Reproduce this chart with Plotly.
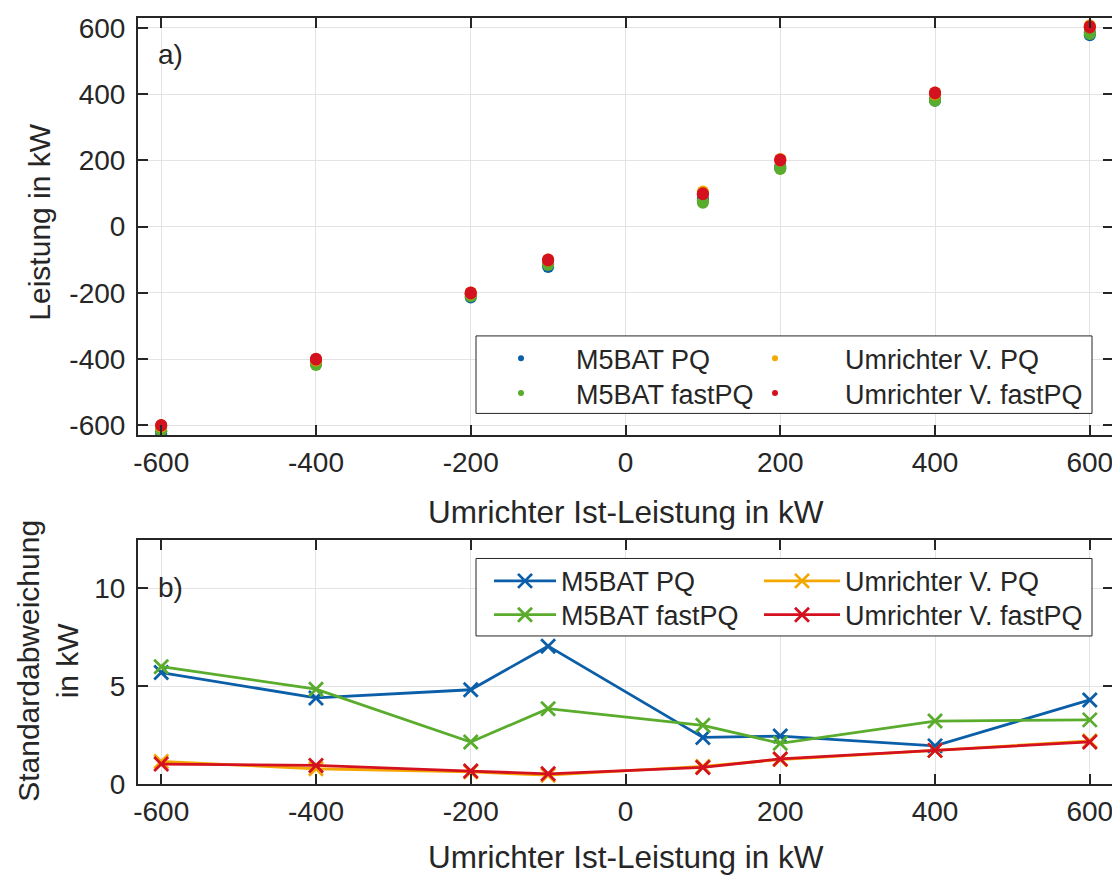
import plotly.graph_objects as go

# ---------------- data ----------------
x_power = [-600, -400, -200, -100, 100, 200, 400, 600]

# a) measured power (two samples per operating point, read from the clusters)
m5bat_pq_lo = [-625, -415, -214, -122, 78, 176, 380, 578]
m5bat_pq_hi = [-618, -408, -206, -114, 86, 182, 386, 586]
m5bat_fastpq_lo = [-616, -418, -210, -116, 72, 174, 380, 582]
m5bat_fastpq_hi = [-610, -412, -204, -110, 78, 180, 384, 588]
umr_pq_lo = [-604, -404, -203, -102, 100, 200, 400, 602]
umr_pq_hi = [-600, -400, -199, -99, 106, 204, 405, 608]
umr_fastpq_lo = [-601, -402, -202, -102, 98, 200, 402, 601]
umr_fastpq_hi = [-599, -399, -199, -99, 101, 203, 405, 605]

# b) standard deviation in kW
std_m5bat_pq = [5.7, 4.4, 4.82, 7.05, 2.38, 2.45, 1.95, 4.3]
std_m5bat_fastpq = [6.0, 4.85, 2.15, 3.85, 3.0, 2.08, 3.22, 3.28]
std_umr_pq = [1.15, 0.78, 0.62, 0.45, 0.9, 1.25, 1.72, 2.2]
std_umr_fastpq = [1.02, 0.95, 0.66, 0.52, 0.85, 1.28, 1.72, 2.15]

series_names = ["M5BAT PQ", "M5BAT fastPQ", "Umrichter V. PQ", "Umrichter V. fastPQ"]
x_ticks = [-600, -400, -200, 0, 200, 400, 600]
x_tick_labels = ["-600", "-400", "-200", "0", "200", "400", "600"]
y_ticks_a = [-600, -400, -200, 0, 200, 400, 600]
y_tick_labels_a = ["-600", "-400", "-200", "0", "200", "400", "600"]
y_ticks_b = [0, 5, 10]
y_tick_labels_b = ["0", "5", "10"]

# ---------------- style ----------------
colors = ["#0b5ea8", "#5aac2c", "#f4a700", "#d4111e"]
FONT = "Liberation Sans, Arial, sans-serif"
TXT = "#262626"
TICK_SIZE = 28
LEG_SIZE = 27
TITLE_SIZE = 30
XTITLE_SIZE = 31.5

# screen-pixel helpers (plot area spans x 138..1113, y 13..784 on screen)
def py(p):
    return (784 - p) / 771.0
def px(p):
    return (p - 138) / 975.0

fig = go.Figure()

top_lo = [m5bat_pq_lo, m5bat_fastpq_lo, umr_pq_lo, umr_fastpq_lo]
top_hi = [m5bat_pq_hi, m5bat_fastpq_hi, umr_pq_hi, umr_fastpq_hi]
for name, lo, hi, c in zip(series_names, top_lo, top_hi, colors):
    fig.add_trace(go.Scatter(x=x_power + x_power, y=lo + hi, mode="markers", name=name,
                             marker=dict(color=c, size=12, line=dict(width=0)),
                             showlegend=False, xaxis="x", yaxis="y"))

# legend slots: (legend id, text-start x, row centre y, itemwidth)
top_slots = [("legend", 578, 356, 100), ("legend3", 578, 391, 100),
             ("legend2", 847, 356, 130), ("legend4", 847, 391, 130)]
bot_slots = [("legend5", 563, 580, 62), ("legend7", 563, 614, 62),
             ("legend6", 847, 580, 76), ("legend8", 847, 614, 76)]

for name, c, slot in zip(series_names, colors, top_slots):
    fig.add_trace(go.Scatter(x=[None], y=[None], mode="markers", name=name,
                             marker=dict(color=c, size=6), legend=slot[0],
                             xaxis="x", yaxis="y"))

bottom = [std_m5bat_pq, std_m5bat_fastpq, std_umr_pq, std_umr_fastpq]
for name, ys, c, slot in zip(series_names, bottom, colors, bot_slots):
    fig.add_trace(go.Scatter(x=x_power, y=ys, mode="lines+markers", name=name,
                             line=dict(color=c, width=2.8),
                             marker=dict(symbol="x-thin", size=14,
                                         line=dict(color=c, width=2.8)),
                             legend=slot[0], xaxis="x2", yaxis="y2"))

axis_common = dict(
    showline=True, linecolor=TXT, linewidth=2, mirror="allticks",
    ticks="inside", ticklen=10, tickwidth=2, tickcolor=TXT,
    showgrid=True, gridcolor="#e3e3e3", gridwidth=1, zeroline=False,
    tickfont=dict(family=FONT, size=TICK_SIZE, color=TXT),
)

legends = {}
for lid, tx, ty, iw in top_slots + bot_slots:
    legends[lid] = dict(
        orientation="v", x=px(tx - iw - 12), xanchor="left", y=py(ty),
        yanchor="middle", bgcolor="rgba(0,0,0,0)", borderwidth=0,
        itemwidth=iw, font=dict(family=FONT, size=LEG_SIZE, color=TXT),
    )

fig.update_layout(
    width=1112, height=867,
    margin=dict(l=130, r=7, t=5, b=91),
    paper_bgcolor="white", plot_bgcolor="white",
    font=dict(family=FONT, color=TXT),
    xaxis=dict(domain=[0, 1], range=[-630, 630], tickvals=x_ticks,
               ticktext=x_tick_labels, anchor="y", ticklabelstandoff=1,
               **axis_common),
    yaxis=dict(domain=[py(433), 1], range=[-630, 630], tickvals=y_ticks_a,
               ticktext=y_tick_labels_a, anchor="x", ticklabelstandoff=5,
               **axis_common),
    xaxis2=dict(domain=[0, 1], range=[-630, 630], tickvals=x_ticks,
                ticktext=x_tick_labels, anchor="y2", ticklabelstandoff=1,
                **axis_common),
    yaxis2=dict(domain=[0, py(538)], range=[0, 12.5], tickvals=y_ticks_b,
                ticktext=y_tick_labels_b, anchor="x2", ticklabelstandoff=5,
                **axis_common),
    shapes=[
        dict(type="rect", xref="paper", yref="paper", x0=px(476), x1=px(1092),
             y0=py(411), y1=py(333), fillcolor="white",
             line=dict(color=TXT, width=1), layer="above"),
        dict(type="rect", xref="paper", yref="paper", x0=px(476), x1=px(1092),
             y0=py(635), y1=py(557), fillcolor="white",
             line=dict(color=TXT, width=1), layer="above"),
    ],
    annotations=[
        dict(text="a)", xref="paper", yref="paper", x=px(156), y=py(50),
             xanchor="left", yanchor="middle", showarrow=False,
             font=dict(family=FONT, size=TICK_SIZE, color=TXT)),
        dict(text="b)", xref="paper", yref="paper", x=px(156), y=py(586),
             xanchor="left", yanchor="middle", showarrow=False,
             font=dict(family=FONT, size=TICK_SIZE, color=TXT)),
        dict(text="Umrichter Ist-Leistung in kW", xref="paper", yref="paper",
             x=0.5, y=py(510), xanchor="center", yanchor="middle",
             showarrow=False, font=dict(family=FONT, size=XTITLE_SIZE, color=TXT)),
        dict(text="Umrichter Ist-Leistung in kW", xref="paper", yref="paper",
             x=0.5, y=py(857), xanchor="center", yanchor="middle",
             showarrow=False, font=dict(family=FONT, size=XTITLE_SIZE, color=TXT)),
        dict(text="Leistung in kW", xref="paper", yref="paper",
             x=px(40), y=py(219), xanchor="center", yanchor="middle",
             textangle=-90, showarrow=False,
             font=dict(family=FONT, size=TITLE_SIZE, color=TXT)),
        dict(text="Standardabweichung<br>in kW", xref="paper", yref="paper",
             x=px(48), y=py(660), xanchor="center", yanchor="middle",
             textangle=-90, showarrow=False,
             font=dict(family=FONT, size=TITLE_SIZE, color=TXT)),
    ],
    **legends,
)

fig.write_html("out.html")
